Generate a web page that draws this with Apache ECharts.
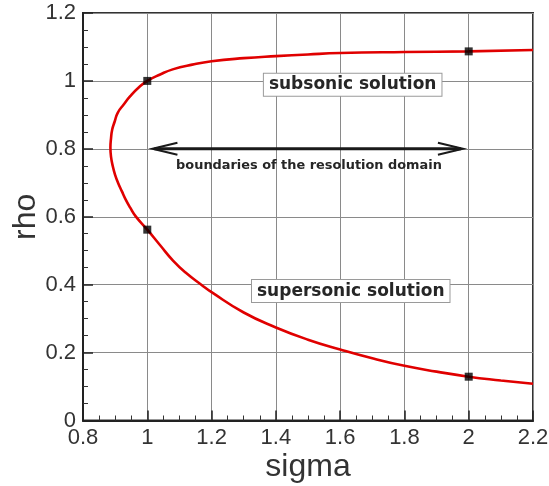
<!DOCTYPE html>
<html>
<head>
<meta charset="utf-8">
<script src="https://cdn.jsdelivr.net/npm/echarts@6/dist/echarts.min.js"></script>
<style>
  html, body { margin: 0; padding: 0; background: #fff; }
  #chart { width: 549px; height: 486px; }
</style>
</head>
<body>
<div id="chart"></div>
<script>
// Solution curve rho(sigma): subsonic branch (top, right to left),
// turning point near sigma = 0.885, then supersonic branch (bottom, left to right)
const curveSigma = [
  2.2, 2.0, 1.8, 1.6, 1.5, 1.4, 1.3, 1.2, 1.14, 1.079, 1.04, 1.0,
  0.9733, 0.9469, 0.9266, 0.908, 0.8986, 0.8909, 0.8871, 0.8853, 0.8871, 0.8927,
  0.8996, 0.9092, 0.9207, 0.9329, 0.9469, 0.964, 1.0,
  1.04, 1.08, 1.12, 1.168, 1.2, 1.3, 1.4, 1.5, 1.6, 1.7, 1.8, 1.9, 2.0, 2.1, 2.2
];
const curveRho = [
  1.091, 1.087, 1.085, 1.082, 1.078, 1.073, 1.067, 1.058, 1.048, 1.034, 1.019, 1.0,
  0.9808, 0.9552, 0.9307, 0.9062, 0.8805, 0.857, 0.8304, 0.8038, 0.7773, 0.7487,
  0.7242, 0.6997, 0.6755, 0.6504, 0.6268, 0.6012, 0.562,
  0.516, 0.471, 0.435, 0.40, 0.378, 0.318, 0.274, 0.238, 0.209, 0.183, 0.161, 0.144, 0.129, 0.118, 0.108
];

// Solutions at the two ends of the resolution domain
const markerSigma = [1.0, 1.0, 2.0, 2.0];
const markerRho   = [1.0, 0.562, 1.087, 0.129];

// Axis ticks
const xTicks = [0.8, 1.0, 1.2, 1.4, 1.6, 1.8, 2.0, 2.2];
const yTicks = [0, 0.2, 0.4, 0.6, 0.8, 1.0, 1.2];

// Double arrow marking the domain: [sigma start, rho, sigma end]
const domainArrow = [1.016, 0.8, 1.982];

// Text annotations
const noteTexts = ['subsonic solution', 'supersonic solution', 'boundaries of the resolution domain'];

const curveData = curveSigma.map((s, i) => [s, curveRho[i]]);
const markerData = markerSigma.map((s, i) => [s, markerRho[i]]);

const chart = echarts.init(document.getElementById('chart'), null, { renderer: 'canvas' });

const tickLabelStyle = { fontFamily: 'Liberation Sans, Arial, sans-serif', fontSize: 22, color: '#333' };

function arrowItem(params, api) {
  const y = api.value(1);
  const a = api.coord([api.value(0), y]);
  const b = api.coord([api.value(2), y]);
  const L = 25, W = 6;
  const stroke = '#1a1a1a';
  return {
    type: 'group',
    children: [
      { type: 'line', shape: { x1: a[0] + 2, y1: a[1], x2: b[0] - 2, y2: b[1] }, style: { stroke: stroke, lineWidth: 3 } },
      { type: 'polyline', shape: { points: [[a[0] + L, a[1] - W], [a[0], a[1]], [a[0] + L, a[1] + W]] }, style: { stroke: stroke, lineWidth: 2, fill: null } },
      { type: 'polyline', shape: { points: [[b[0] - L, b[1] - W], [b[0], b[1]], [b[0] - L, b[1] + W]] }, style: { stroke: stroke, lineWidth: 2, fill: null } },
      { type: 'polygon', shape: { points: [[a[0], a[1]], [a[0] + 8, a[1] - 2.5], [a[0] + 8, a[1] + 2.5]] }, style: { fill: stroke } },
      { type: 'polygon', shape: { points: [[b[0], b[1]], [b[0] - 8, b[1] - 2.5], [b[0] - 8, b[1] + 2.5]] }, style: { fill: stroke } }
    ]
  };
}

function noteItem(params, api) {
  const p = api.coord([api.value(0), api.value(1)]);
  const idx = api.value(2);
  const boxed = idx < 2;
  return {
    type: 'text',
    x: p[0],
    y: p[1],
    style: {
      text: noteTexts[idx],
      align: 'center',
      verticalAlign: 'middle',
      fontFamily: 'DejaVu Sans, Verdana, sans-serif',
      fontWeight: 'bold',
      fontSize: boxed ? 17 : 12.9,
      fill: '#262626',
      backgroundColor: boxed ? '#fff' : null,
      borderColor: boxed ? '#9a9a9a' : null,
      borderWidth: boxed ? 1 : 0,
      padding: boxed ? [3, 5, 2, 5] : 0
    }
  };
}

chart.setOption({
  animation: false,
  backgroundColor: '#fff',
  grid: {
    left: 83, right: 16, top: 13, bottom: 65.5,
    containLabel: false, outerBoundsMode: 'none',
    show: true, borderColor: '#333', borderWidth: 2, backgroundColor: 'transparent'
  },
  xAxis: {
    type: 'value',
    min: xTicks[0], max: xTicks[xTicks.length - 1], interval: 0.2,
    name: 'sigma', nameLocation: 'middle', nameGap: 31, nameMoveOverlap: false,
    nameTextStyle: { fontFamily: 'Liberation Sans, Arial, sans-serif', fontSize: 32, color: '#333' },
    axisLine: { lineStyle: { color: '#222', width: 2 } },
    axisTick: { inside: true, length: 10, lineStyle: { color: '#222', width: 1.5 } },
    minorTick: { show: true, splitNumber: 4, length: 5, lineStyle: { color: '#333', width: 1 } },
    splitLine: { show: true, lineStyle: { color: '#8a8a8a', width: 1 } },
    axisLabel: Object.assign({ margin: 6, formatter: v => String(+v.toFixed(1)) }, tickLabelStyle)
  },
  yAxis: {
    type: 'value',
    min: yTicks[0], max: yTicks[yTicks.length - 1], interval: 0.2,
    name: 'rho', nameLocation: 'middle', nameGap: 41, nameRotate: 90, nameMoveOverlap: false,
    nameTextStyle: { fontFamily: 'Liberation Sans, Arial, sans-serif', fontSize: 32, color: '#333' },
    axisLine: { lineStyle: { color: '#222', width: 2 } },
    axisTick: { inside: true, length: 10, lineStyle: { color: '#222', width: 1.5 } },
    minorTick: { show: true, splitNumber: 4, length: 5, lineStyle: { color: '#333', width: 1 } },
    splitLine: { show: true, lineStyle: { color: '#8a8a8a', width: 1 } },
    axisLabel: Object.assign({ margin: 7, formatter: v => String(+v.toFixed(1)) }, tickLabelStyle)
  },
  series: [
    {
      type: 'line',
      data: curveData,
      smooth: 0.5,
      showSymbol: false,
      lineStyle: { color: '#e00000', width: 2.6 },
      z: 3
    },
    {
      type: 'scatter',
      data: markerData,
      symbol: 'rect',
      symbolSize: 8,
      itemStyle: { color: '#000' },
      z: 4
    },
    {
      type: 'custom',
      data: [domainArrow],
      renderItem: arrowItem,
      clip: false,
      z: 5
    },
    {
      type: 'custom',
      data: [[1.639, 0.989, 0], [1.633, 0.381, 1], [1.503, 0.751, 2]],
      renderItem: noteItem,
      clip: false,
      z: 6
    }
  ]
});
</script>
</body>
</html>
